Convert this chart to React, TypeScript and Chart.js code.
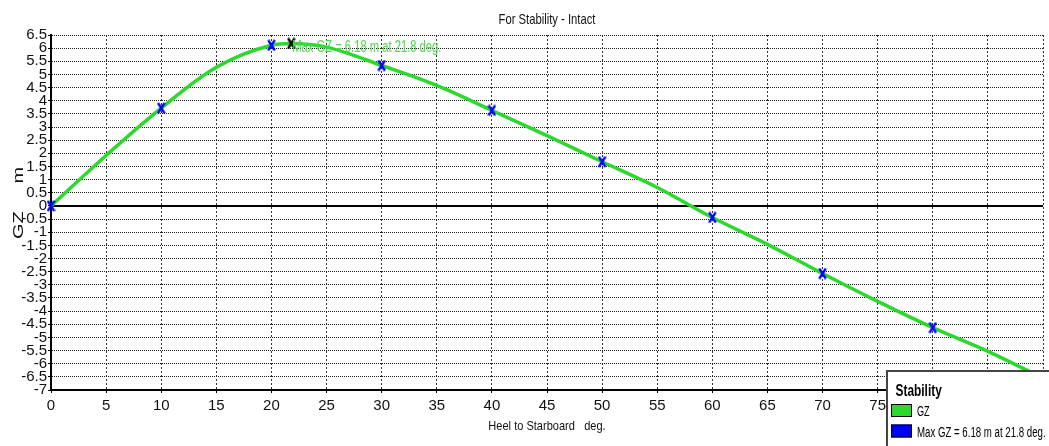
import React, { useEffect, useRef } from 'react';
import { Chart, registerables } from 'chart.js';

Chart.register(...registerables);

// ---- data ----
const heelDeg = [0, 5, 10, 15, 20, 21.8, 25, 30, 35, 40, 45, 50, 55, 60, 65, 70, 75, 80, 85, 90];
const gzM = [0, 1.92, 3.72, 5.27, 6.11, 6.18, 6.04, 5.34, 4.58, 3.63, 2.67, 1.68, 0.7, -0.44, -1.46, -2.57, -3.63, -4.63, -5.53, -6.55];
const stationHeel = [0, 10, 20, 30, 40, 50, 60, 70, 80];
const stationGZ = [0, 3.72, 6.11, 5.34, 3.63, 1.68, -0.44, -2.57, -4.63];
const maxHeel = [21.8];
const maxGZ = [6.18];

const xMin = 0;
const xMax = 90;
const xStep = 5;
const yMin = -7;
const yMax = 6.5;
const yStep = 0.5;

const titleText = 'For Stability - Intact';
const xTitle = 'Heel to Starboard   deg.';
const yTitle = 'GZ     m';
const legendTitle = 'Stability';
const legendLabels = ['GZ', 'Max GZ = 6.18 m at 21.8 deg.'];
const maxNote = 'Max GZ = 6.18 m at 21.8 deg.';

const GREEN = '#2cd82c';
const BLUE = '#0000ff';
const NARROW = "'Liberation Sans Narrow', 'Liberation Sans', Arial, sans-serif";
const SANS = "'Liberation Sans', Arial, sans-serif";

function makeX(color: string): HTMLCanvasElement {
  const c = document.createElement('canvas');
  c.width = 9;
  c.height = 12;
  const g = c.getContext('2d') as CanvasRenderingContext2D;
  g.strokeStyle = color;
  g.lineWidth = 2.5;
  g.beginPath();
  g.moveTo(1.2, 0.8);
  g.lineTo(7.8, 11.2);
  g.moveTo(7.8, 0.8);
  g.lineTo(1.2, 11.2);
  g.stroke();
  return c;
}

function sq(
  ctx: CanvasRenderingContext2D,
  text: string,
  x: number,
  y: number,
  size: number,
  sx: number,
  color: string,
  align: CanvasTextAlign = 'left',
  bold = false
) {
  ctx.save();
  ctx.font = `${bold ? 'bold ' : ''}${size}px ${SANS}`;
  ctx.fillStyle = color;
  ctx.textAlign = align;
  ctx.textBaseline = 'alphabetic';
  ctx.translate(x, y);
  ctx.scale(sx, 1);
  ctx.fillText(text, 0, 0);
  ctx.restore();
}

const decor = {
  id: 'decor',
  beforeDatasetsDraw(chart: any) {
    const { ctx, chartArea, scales } = chart;
    const y0 = Math.round(scales.y.getPixelForValue(0));
    ctx.save();
    ctx.strokeStyle = '#000';
    ctx.lineWidth = 2;
    ctx.beginPath();
    ctx.moveTo(chartArea.left, y0);
    ctx.lineTo(chartArea.right, y0);
    ctx.stroke();
    ctx.restore();
  },
  afterDraw(chart: any) {
    const { ctx, chartArea, scales } = chart;
    const cx = (chartArea.left + chartArea.right) / 2;
    // title
    sq(ctx, titleText, cx, 24, 15, 0.75, '#111', 'center');
    // x title
    sq(ctx, xTitle, cx, 430, 13, 0.85, '#111', 'center');
    // y title (rotated, glyphs squeezed)
    ctx.save();
    ctx.translate(23, 203);
    ctx.rotate(-Math.PI / 2);
    ctx.scale(1, 0.72);
    ctx.font = `20px ${SANS}`;
    ctx.fillStyle = '#111';
    ctx.textAlign = 'center';
    ctx.textBaseline = 'alphabetic';
    ctx.fillText(yTitle, 0, 0);
    ctx.restore();
    // max note
    const nx = scales.x.getPixelForValue(maxHeel[0]);
    const ny = scales.y.getPixelForValue(maxGZ[0]);
    sq(ctx, maxNote, nx + 1, ny + 9, 16, 0.7, '#4fd84f', 'left');

    // legend box
    const lx = 887;
    const ly = 371;
    ctx.save();
    ctx.fillStyle = '#fff';
    ctx.fillRect(lx, ly, 1049 - lx, 446 - ly);
    ctx.strokeStyle = '#444';
    ctx.lineWidth = 2;
    ctx.beginPath();
    ctx.moveTo(lx, 446);
    ctx.lineTo(lx, ly);
    ctx.lineTo(1049, ly);
    ctx.stroke();
    ctx.restore();
    sq(ctx, legendTitle, 895.5, 396, 17, 0.7, '#000', 'left', true);
    const swatches = [GREEN, BLUE];
    const rows = [404, 424.5];
    swatches.forEach((c, i) => {
      ctx.save();
      ctx.fillStyle = c;
      ctx.fillRect(891, rows[i], 21, 13);
      ctx.strokeStyle = '#000';
      ctx.lineWidth = 1;
      ctx.strokeRect(891.5, rows[i] + 0.5, 20, 12);
      ctx.restore();
      sq(ctx, legendLabels[i], 917, rows[i] + 12, 14, i === 0 ? 0.65 : 0.69, '#000', 'left');
    });
  },
};

export default function App() {
  const ref = useRef<HTMLCanvasElement | null>(null);

  useEffect(() => {
    document.body.style.margin = '0';
    const canvas = ref.current;
    if (!canvas) return;
    const blueX = makeX(BLUE);
    const blackX = makeX('#000');

    const chart = new Chart(canvas, {
      type: 'line',
      data: {
        datasets: [
          {
            label: 'Max GZ',
            data: maxHeel.map((x, i) => ({ x, y: maxGZ[i] })),
            showLine: false,
            pointStyle: blackX as any,
            pointRadius: 5,
            order: 0,
            clip: false as any,
          },
          {
            label: 'Stations',
            data: stationHeel.map((x, i) => ({ x, y: stationGZ[i] })),
            showLine: false,
            pointStyle: blueX as any,
            pointRadius: 5,
            order: 1,
            clip: false as any,
          },
          {
            label: 'GZ',
            data: heelDeg.map((x, i) => ({ x, y: gzM[i] })),
            borderColor: GREEN,
            borderWidth: 3.5,
            pointRadius: 0,
            cubicInterpolationMode: 'monotone',
            fill: false,
            order: 3,
          },
        ],
      },
      options: {
        animation: false,
        responsive: false,
        devicePixelRatio: 1,
        layout: { padding: { top: 35, right: 1, bottom: 0, left: 0 } },
        plugins: {
          legend: { display: false },
          tooltip: { enabled: false },
          title: { display: false },
        },
        scales: {
          x: {
            type: 'linear',
            min: xMin,
            max: xMax,
            ticks: {
              stepSize: xStep,
              autoSkip: false,
              maxRotation: 0,
              padding: 4,
              color: '#111',
              font: { family: NARROW, size: 15 },
              callback: (v: any) => String(v),
            },
            grid: { color: '#333', lineWidth: 1, drawTicks: true, tickLength: 3, tickColor: '#000' },
            border: { display: true, color: '#000', width: 2, dash: [2, 2] },
            afterFit(s: any) {
              s.height = 56;
              s.paddingLeft = 0;
              s.paddingRight = 0;
            },
          },
          y: {
            type: 'linear',
            min: yMin,
            max: yMax,
            ticks: {
              stepSize: yStep,
              autoSkip: false,
              padding: 1,
              color: '#111',
              font: { family: NARROW, size: 15 },
              callback: (v: any) => String(Math.round(Number(v) * 10) / 10),
            },
            grid: { color: '#1a1a1a', lineWidth: 1, drawTicks: true, tickLength: 3, tickColor: '#000' },
            border: { display: true, color: '#000', width: 2, dash: [1, 1] },
            afterFit(s: any) {
              s.width = 51;
              s.paddingTop = 0;
              s.paddingBottom = 0;
            },
          },
        },
      } as any,
      plugins: [decor],
    });
    return () => chart.destroy();
  }, []);

  return (
    <div style={{ position: 'relative', width: 1049, height: 446 }}>
      <canvas ref={ref} width={1049} height={446} style={{ display: 'block' }} />
    </div>
  );
}
